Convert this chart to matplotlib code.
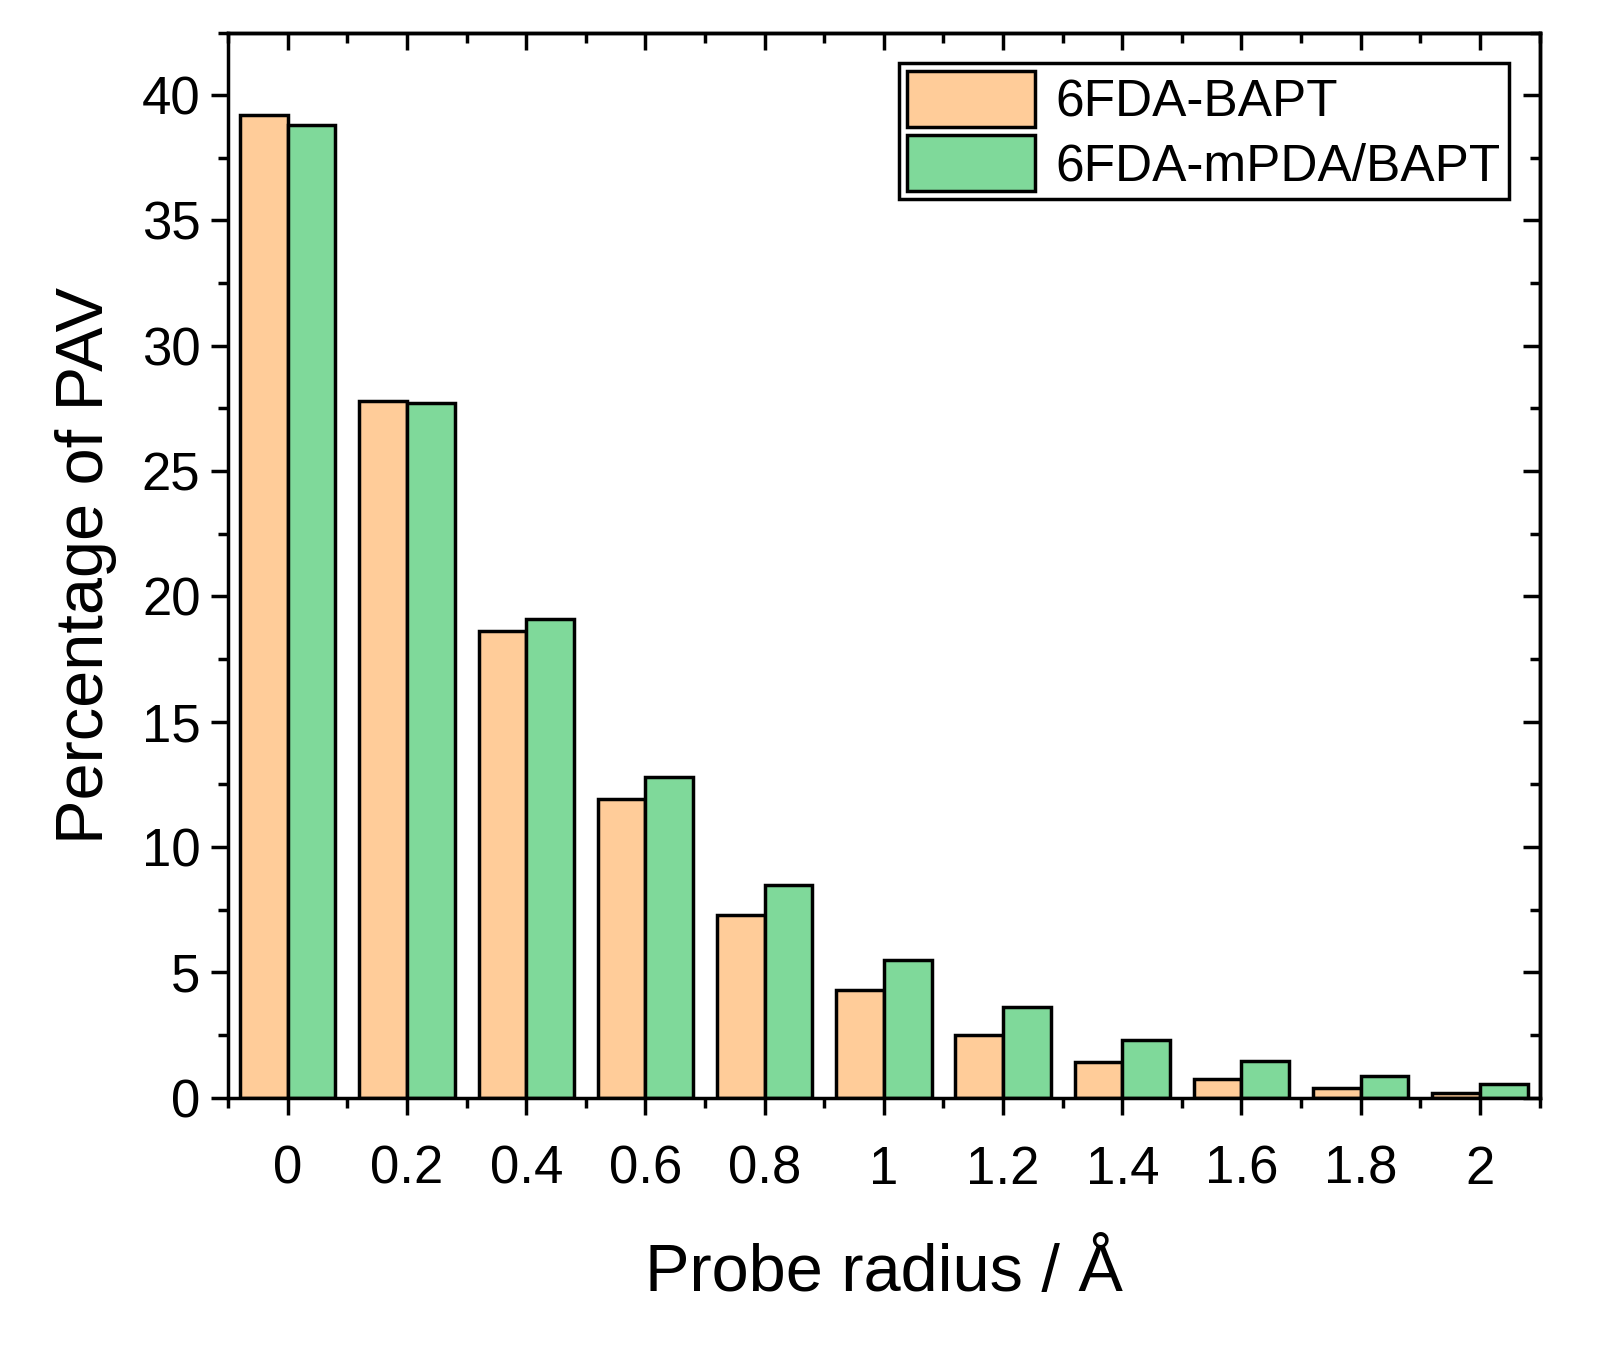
import matplotlib
matplotlib.use("Agg")
import matplotlib.pyplot as plt
import numpy as np
from matplotlib.ticker import MultipleLocator

plt.rcParams['font.family'] = ['Liberation Sans', 'DejaVu Sans']

radius = [0, 0.2, 0.4, 0.6, 0.8, 1.0, 1.2, 1.4, 1.6, 1.8, 2.0]
bapt = [39.2, 27.8, 18.6, 11.9, 7.3, 4.3, 2.5, 1.4, 0.75, 0.4, 0.2]
mpda_bapt = [38.8, 27.7, 19.1, 12.8, 8.5, 5.5, 3.6, 2.3, 1.45, 0.85, 0.55]
xticklabels = ['0', '0.2', '0.4', '0.6', '0.8', '1', '1.2', '1.4', '1.6', '1.8', '2']

fig = plt.figure(figsize=(16.07, 13.55), dpi=100)
ax = fig.add_axes([0.142, 0.190, 0.816, 0.786])
x = np.array(radius)
w = 0.08
ax.bar(x - w/2, bapt, w, color='#FFCC99', edgecolor='black', linewidth=2.5, label='6FDA-BAPT')
ax.bar(x + w/2, mpda_bapt, w, color='#7FD99A', edgecolor='black', linewidth=2.5, label='6FDA-mPDA/BAPT')
ax.set_xlim(-0.1, 2.1)
ax.set_ylim(0, 42.5)
ax.set_xticks(radius)
ax.set_xticklabels(xticklabels)
ax.xaxis.set_minor_locator(MultipleLocator(0.1))
ax.yaxis.set_major_locator(MultipleLocator(5))
ax.yaxis.set_minor_locator(MultipleLocator(2.5))
ax.tick_params(which='both', direction='out', width=2.5, labelsize=38)
ax.tick_params(which='major', length=12)
ax.tick_params(which='minor', length=7)
ax.tick_params(axis='x', which='major', pad=22)
ax.tick_params(axis='y', which='major', pad=8)

top = ax.secondary_xaxis('top')
top.set_xticks(radius)
top.xaxis.set_minor_locator(MultipleLocator(0.1))
top.tick_params(which='both', direction='in', width=2.5, labeltop=False)
top.tick_params(which='major', length=12)
top.tick_params(which='minor', length=7)
right = ax.secondary_yaxis('right')
right.yaxis.set_major_locator(MultipleLocator(5))
right.yaxis.set_minor_locator(MultipleLocator(2.5))
right.tick_params(which='both', direction='in', width=2.5, labelright=False)
right.tick_params(which='major', length=12)
right.tick_params(which='minor', length=7)

for s in ax.spines.values():
    s.set_linewidth(2.5)
for s in list(top.spines.values()) + list(right.spines.values()):
    s.set_linewidth(2.5)
ax.set_xlabel('Probe radius / Å', fontsize=48, labelpad=35)
ax.set_ylabel('Percentage of PAV', fontsize=48, labelpad=18)
leg = ax.legend(loc='upper right', fontsize=37, fancybox=False, edgecolor='black',
                framealpha=1, borderaxespad=0.6, handlelength=2.5, handleheight=1.3,
                handletextpad=0.4, borderpad=0.15, labelspacing=0.15)
leg.get_frame().set_linewidth(2.5)
fig.savefig('out.png', dpi=100)
